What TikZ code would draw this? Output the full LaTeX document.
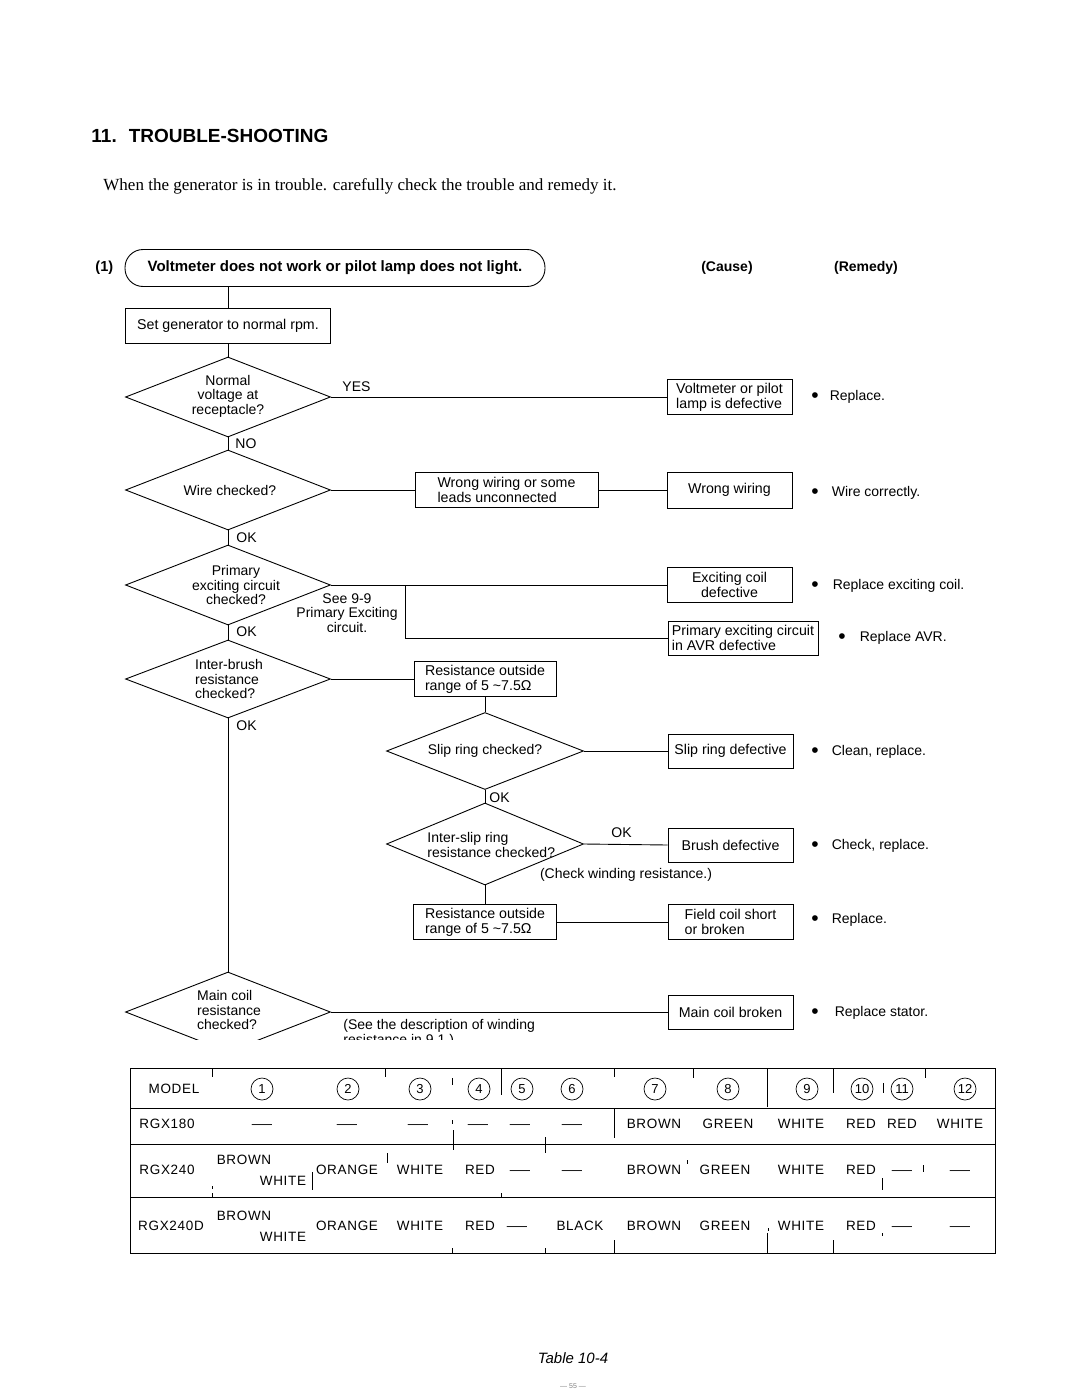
\documentclass[tikz,border=0pt]{standalone}
\usepackage{fontspec}
\setmainfont{Liberation Sans}
\newfontfamily\timesfont{Liberation Serif}
\newcommand{\bul}{\raisebox{-1.5pt}{\fontsize{21}{21}\selectfont\textbullet}}
\newcommand{\dsh}{\scalebox{1.5}[1]{—}}
\usetikzlibrary{shapes.geometric}

\begin{document}
\begin{tikzpicture}[x=1pt,y=-1pt,line width=0.9pt,
	dia/.style={draw,diamond,minimum width=205pt,minimum height=80pt,inner sep=0pt},
	box/.style={draw,align=left,minimum height=34pt,inner sep=3pt,font=\fontsize{14.2}{15}\selectfont},
	txt/.style={align=center,inner sep=0pt,font=\fontsize{14}{14.5}\selectfont},
	lbl/.style={anchor=west,inner sep=0pt,font=\fontsize{14}{15}\selectfont},
	rem/.style={anchor=west,inner sep=0pt,font=\fontsize{14}{15}\selectfont},
	cell/.style={inner sep=0pt,text height=9.7pt,text depth=0pt,font=\fontsize{13.5}{14}\selectfont\addfontfeature{LetterSpace=5}},
	num/.style={draw,circle,minimum size=22pt,inner sep=0pt,line width=0.7pt,font=\fontsize{13}{13}\selectfont}]
	\useasboundingbox[fill=white] (0,0) rectangle (1080,1399);

	%heading
	\node[anchor=west,inner sep=0pt,font=\fontsize{19}{20}\selectfont\bfseries] (title) at (91,136) {11.\hspace{12pt}TROUBLE-SHOOTING};
	\node[anchor=west,inner sep=0pt,font=\timesfont\fontsize{17}{18}\selectfont] (intro) at (103,186) {When the generator is in trouble. carefully check the trouble and remedy it.};
	\node[anchor=west,inner sep=0pt,font=\fontsize{14.5}{15}\selectfont\bfseries] (no1) at (95,268) {(1)};
	\node[draw,rounded corners=18pt,minimum width=420pt,minimum height=37pt,font=\fontsize{15}{16}\selectfont\bfseries] (top) at (335,268) {Voltmeter does not work or pilot lamp does not light.};
	\node[font=\fontsize{14}{15}\selectfont\bfseries] (cause) at (727,268) {(Cause)};
	\node[font=\fontsize{14}{15}\selectfont\bfseries] (remedy) at (866,268) {(Remedy)};

	%main column
	\node[box,align=center,minimum width=205pt,minimum height=35pt] (s1) at (228,325.5) {Set generator to normal rpm.};
	\node[dia] (d1) at (228,397) {};
	\node[txt] (d1t) at (228,396) {Normal\\voltage at\\receptacle?};
	\node[dia] (d2) at (228,490) {};
	\node[txt] (d2t) at (230,490) {Wire checked?};
	\node[dia] (d3) at (228,585) {};
	\node[txt] (d3t) at (236,585) {Primary\\exciting circuit\\checked?};
	\node[dia,minimum height=78pt] (d4) at (228,679) {};
	\node[txt,align=left] (d4t) at (229,679) {Inter-brush\\resistance\\checked?};

	%second column
	\node[box,minimum width=183pt,minimum height=35pt] (w1) at (506.5,490) {Wrong wiring or some\\leads unconnected};
	\node[box,minimum width=142pt] (r1) at (485,679) {Resistance outside\\range of 5 \textasciitilde7.5Ω};
	\node[dia,minimum width=197pt,minimum height=77pt] (d5) at (485,751) {};
	\node[txt] (d5t) at (485,751) {Slip ring checked?};
	\node[dia,minimum width=197pt,minimum height=82pt] (d6) at (485,844) {};
	\node[txt,anchor=west,align=left] (d6t) at (427,845) {Inter-slip ring\\resistance checked?};
	\node[box,minimum width=143pt,minimum height=35pt] (r2) at (485,922) {Resistance outside\\range of 5 \textasciitilde7.5Ω};

	%causes
	\node[box,minimum width=125pt,minimum height=33pt] (c1) at (729.5,397) {Voltmeter or pilot\\lamp is defective};
	\node[box,align=center,minimum width=125pt,minimum height=36pt] (c2) at (729.5,490) {Wrong wiring};
	\node[box,align=center,minimum width=125pt,minimum height=35pt] (c3) at (729.5,585) {Exciting coil\\defective};
	\node[box,minimum width=150pt,minimum height=34pt] (c4) at (743,638) {Primary exciting circuit\\in AVR defective};
	\node[box,align=center,minimum width=125pt] (c5) at (730.5,751) {Slip ring defective};
	\node[box,align=center,minimum width=125pt] (c6) at (730.5,845) {Brush defective};
	\node[box,minimum width=125pt,minimum height=35pt] (c7) at (730.5,922) {Field coil short\\or broken};
	\node[box,align=center,minimum width=125pt] (c8) at (730.5,1012) {Main coil broken};

	%remedies
	\node[rem] (m1) at (811,397) {\bul\hspace{11pt}Replace.};
	\node[rem] (m2) at (811,493) {\bul\hspace{13pt}Wire correctly.};
	\node[rem] (m3) at (811,586) {\bul\hspace{14pt}Replace exciting coil.};
	\node[rem] (m4) at (838,638) {\bul\hspace{14pt}Replace AVR.};
	\node[rem] (m5) at (811,752) {\bul\hspace{13pt}Clean, replace.};
	\node[rem] (m6) at (811,846) {\bul\hspace{13pt}Check, replace.};
	\node[rem] (m7) at (811,920) {\bul\hspace{13pt}Replace.};
	\node[rem] (m8) at (811,1013) {\bul\hspace{16pt}Replace stator.};

	%labels
	\node[lbl] (yes) at (342,387) {YES};
	\node[lbl] (no) at (235,444) {NO};
	\node[lbl] (ok1) at (236,538) {OK};
	\node[lbl] (ok2) at (236,632) {OK};
	\node[lbl] (ok3) at (236,726) {OK};
	\node[lbl] (ok4) at (489,798) {OK};
	\node[lbl] (ok5) at (611,833) {OK};
	\node[txt] (see) at (347,613) {See 9-9\\Primary Exciting\\circuit.};
	\node[txt] (chk) at (626,875) {(Check winding resistance.)};

	%main coil (cut by the table)
	\begin{scope}
	\clip (0,900) rectangle (1080,1039);
	\node[dia] (d7) at (228,1012) {};
	\node[txt,align=left] (d7t) at (229,1010) {Main coil\\resistance\\checked?};
	\node[lbl,align=left] (desc) at (343,1033) {(See the description of winding\\resistance in 9.1.)};
	\end{scope}

	%connectors
	\draw (top.south -| s1.north) -- (s1.north);
	\draw (s1.south) -- (d1.north);
	\draw (d1.east) -- (c1.west);
	\draw (d1.south) -- (d2.north);
	\draw (d2.east) -- (w1.west);
	\draw (w1.east) -- (c2.west);
	\draw (d2.south) -- (d3.north);
	\draw (d3.east) -- (c3.west);
	\coordinate (br) at (405,585);
	\draw (br) |- (c4.west);
	\draw (d3.south) -- (d4.north);
	\draw (d4.east) -- (r1.west);
	\draw (r1.south) -- (d5.north);
	\draw (d5.east) -- (c5.west);
	\draw (d5.south) -- (d6.north);
	\draw (d6.east) -- (c6.west);
	\draw (d6.south) -- (r2.north);
	\draw (r2.east) -- (c7.west);
	\draw (d4.south) -- (d7.north);
	\draw (d7.east) -- (c8.west);

	%table
	\draw (130,1068) rectangle (995,1253);
	\foreach \y in {1108,1144,1197}
	\draw (130,\y) -- (995,\y);
	\foreach \x/\ya/\yb in {212/1068/1077,385/1068/1077,452/1078/1085,501/1068/1095,614/1068/1077,693/1068/1078,767/1068/1107,833/1068/1093,883/1083/1093,925/1068/1078,
		452/1120/1124,614/1108/1138,453/1130/1150,545/1137/1153,
		387/1153/1163,312/1172/1190,212/1186/1189,212/1193/1197,501/1193/1197,687/1160/1164,882/1178/1190,923/1165/1172,
		614/1240/1253,452/1248/1253,545/1248/1253,767/1233/1253,833/1240/1253,768/1228/1231,882/1233/1236}
	\draw[line width=0.7pt] (\x,\ya) -- (\x,\yb);

	\node[cell] (model) at (174,1089) {MODEL};
	\foreach \x [count=\i] in {262,348,420,479,522,572,655,728,807,862,902,965}
	\node[num] (n\i) at (\x,1089) {\i};

	\node[cell] (ra) at (167,1124) {RGX180};
	\foreach \x/\t [count=\i] in {262/\dsh,347/\dsh,418/\dsh,478/\dsh,520/\dsh,572/\dsh,654/BROWN,728/GREEN,801/WHITE,861/RED,902/RED,960/WHITE}
	\node[cell] (a\i) at (\x,1124) {\t};

	\node[cell] (rb) at (167,1170) {RGX240};
	\node[cell] (b0) at (244,1160) {BROWN};
	\node[cell] (b00) at (283,1181) {WHITE};
	\foreach \x/\t [count=\i] in {347/ORANGE,420/WHITE,480/RED,520/\dsh,572/\dsh,654/BROWN,725/GREEN,801/WHITE,861/RED,902/\dsh,960/\dsh}
	\node[cell] (b\i) at (\x,1170) {\t};

	\node[cell] (rc) at (171,1226) {RGX240D};
	\node[cell] (c0) at (244,1216) {BROWN};
	\node[cell] (c00) at (283,1237) {WHITE};
	\foreach \x/\t [count=\i] in {347/ORANGE,420/WHITE,480/RED,517/\dsh,580/BLACK,654/BROWN,725/GREEN,801/WHITE,861/RED,902/\dsh,960/\dsh}
	\node[cell] (e\i) at (\x,1226) {\t};

	%caption
	\node[font=\fontsize{15}{16}\selectfont\itshape] (tab) at (573,1358) {Table 10-4};
	\node[font=\fontsize{7}{8}\selectfont,text=gray] (page) at (573,1386) {— 55 —};
\end{tikzpicture}
\end{document}
